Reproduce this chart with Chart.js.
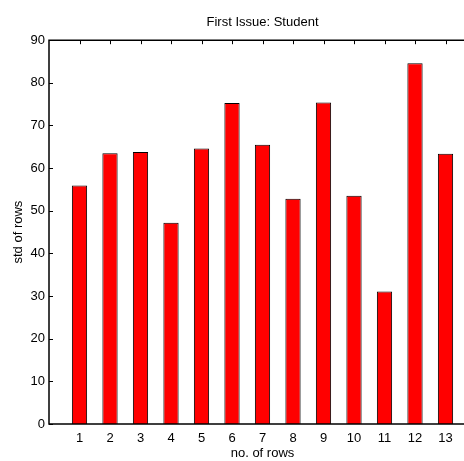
<!DOCTYPE html>
<html>
<head>
<meta charset="utf-8">
<script src="https://cdn.jsdelivr.net/npm/chart.js@4/dist/chart.umd.min.js"></script>
<style>
  html, body { margin: 0; padding: 0; background: #fff; overflow: hidden; width: 464px; height: 461px; }
  #wrap { width: 464px; height: 461px; overflow: hidden; position: relative; }
  #c { position: absolute; left: 0; top: 0; }
</style>
</head>
<body>
<div id="wrap"><canvas id="c" width="476" height="461"></canvas></div>
<script>
const categories = [1, 2, 3, 4, 5, 6, 7, 8, 9, 10, 11, 12, 13];
const stdValues = [55.9, 63.5, 63.8, 47.2, 64.6, 75.3, 65.5, 52.8, 75.4, 53.5, 31.1, 84.6, 63.4];
const yTicks = [0, 10, 20, 30, 40, 50, 60, 70, 80, 90];
const titleText = 'First Issue: Student';
const xLabel = 'no. of rows';
const yLabel = 'std of rows';

const FONT = { family: '"Liberation Sans", Arial, sans-serif', size: 13 };

const axesPlugin = {
  id: 'matlabAxes',
  beforeDatasetsDraw(chart) {
    const { ctx, chartArea: a, scales: { x, y } } = chart;
    ctx.save();
    ctx.strokeStyle = '#000';
    ctx.lineWidth = 1;
    ctx.beginPath();
    y.ticks.forEach(t => {
      const py = Math.round(y.getPixelForValue(t.value)) + 0.5;
      ctx.moveTo(a.left, py); ctx.lineTo(a.left + 4, py);
    });
    x.ticks.forEach(t => {
      const px = Math.round(x.getPixelForValue(t.value)) + 0.5;
      ctx.moveTo(px, a.top); ctx.lineTo(px, a.top + 4);
      ctx.moveTo(px, a.bottom); ctx.lineTo(px, a.bottom - 4);
    });
    ctx.stroke();
    ctx.restore();
  },
  afterDatasetsDraw(chart) {
    const { ctx, chartArea: a } = chart;
    ctx.save();
    ctx.strokeStyle = '#000';
    ctx.lineWidth = 1.5;
    ctx.beginPath();
    ctx.moveTo(a.right + 2, a.top);
    ctx.lineTo(a.left, a.top);
    ctx.lineTo(a.left, a.bottom);
    ctx.lineTo(a.right + 2, a.bottom);
    ctx.stroke();
    ctx.restore();
  }
};

new Chart(document.getElementById('c'), {
  type: 'bar',
  data: {
    datasets: [{
      data: categories.map((c, i) => ({ x: c, y: stdValues[i] })),
      backgroundColor: '#ff0000',
      borderColor: '#000000',
      borderWidth: 1,
      barPercentage: 0.5,
      categoryPercentage: 1.0
    }]
  },
  options: {
    responsive: false,
    animation: false,
    layout: { padding: 0 },
    plugins: {
      legend: { display: false },
      tooltip: { enabled: false },
      title: {
        display: true,
        fullSize: false,
        text: titleText,
        color: '#000',
        font: { ...FONT, weight: 'normal' },
        padding: { top: 15, bottom: 9.6 }
      }
    },
    scales: {
      x: {
        type: 'linear',
        offset: false,
        min: 0,
        max: 14,
        afterBuildTicks(scale) { scale.ticks = categories.map(v => ({ value: v })); },
        afterFit(scale) { scale.height = 37; },
        grid: { display: false, drawTicks: false },
        border: { display: false },
        ticks: { color: '#000', font: FONT, padding: 7, maxRotation: 0, autoSkip: false },
        title: { display: true, text: xLabel, color: '#000', font: FONT, padding: { top: 0, bottom: 0 } }
      },
      y: {
        min: 0,
        max: 90,
        afterBuildTicks(scale) { scale.ticks = yTicks.map(v => ({ value: v })); },
        afterFit(scale) { scale.width = 49; },
        grid: { display: false, drawTicks: false },
        border: { display: false },
        ticks: { color: '#000', font: FONT, padding: 4 },
        title: { display: true, text: yLabel, color: '#000', font: FONT, padding: { top: 11, bottom: 0 } }
      }
    }
  },
  plugins: [axesPlugin]
});
</script>
</body>
</html>
